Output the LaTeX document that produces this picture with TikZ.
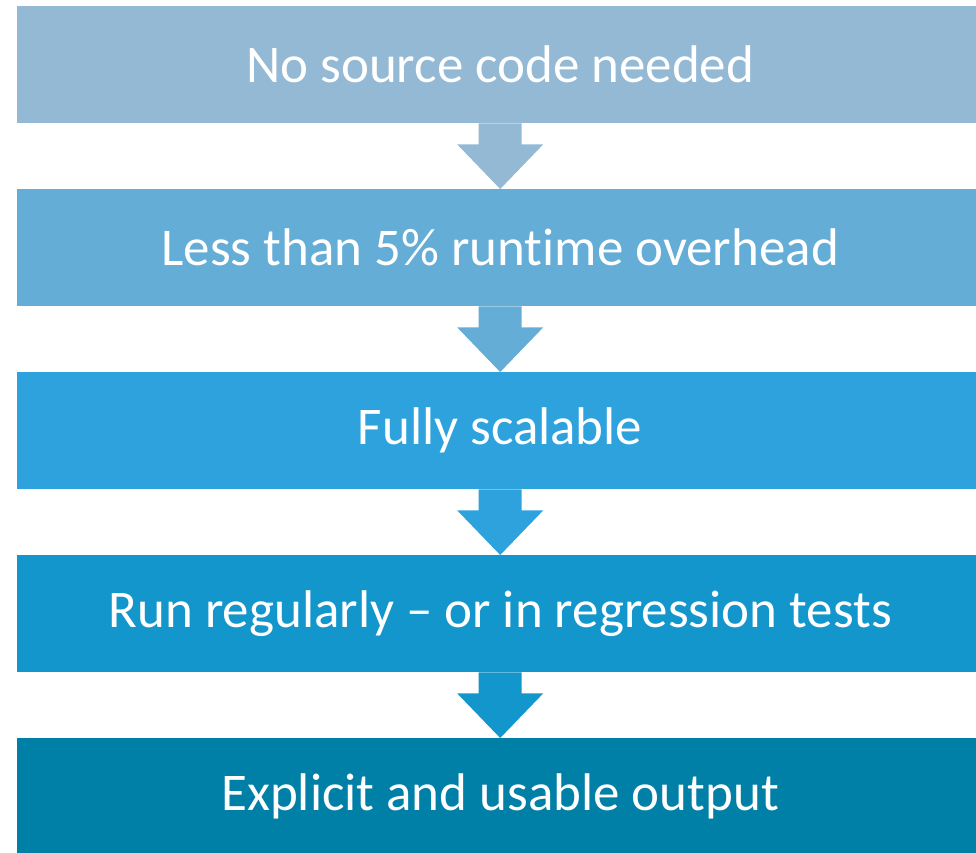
\documentclass[tikz,border=0pt]{standalone}
\usepackage{fontspec}
\setmainfont[Ligatures={NoCommon}]{Carlito}
\definecolor{cA}{HTML}{94B9D5}
\definecolor{cB}{HTML}{64ADD6}
\definecolor{cC}{HTML}{2EA2DC}
\definecolor{cD}{HTML}{1296CB}
\definecolor{cE}{HTML}{007FA7}
\begin{document}
\begin{tikzpicture}[x=1pt,y=-1pt,
  bar/.style={fill=#1,draw=none,minimum width=966pt,minimum height=117pt,anchor=north west,inner sep=0pt,
    text=white,font=\fontsize{53}{60}\selectfont},
  blockarrow/.style={fill=#1,draw=none}]
\useasboundingbox (0,0) rectangle (976,852);
\begin{scope}
\clip (0,0) rectangle (976,852);
\node[bar=cA] (b1) at (17,6) {No source code needed};
\node[bar=cB] (b2) at (17,189) {Less than 5\% runtime overhead};
\node[bar=cC] (b3) at (17,372) {Fully scalable};
\node[bar=cD] (b4) at (17,555) {Run regularly -- or in regression tests};
\node[bar=cE] (b5) at (17,738) {Explicit and usable output};
\foreach \u/\l/\c in {b1/b2/cA,b2/b3/cB,b3/b4/cC,b4/b5/cD}{
  \fill[\c] ([xshift=-21.5pt]\u.south) -- ([xshift=21.5pt]\u.south)
    -- ([xshift=21.5pt,yshift=-21pt]\u.south) -- ([xshift=43pt,yshift=-21pt]\u.south)
    -- (\l.north) -- ([xshift=-43pt,yshift=-21pt]\u.south)
    -- ([xshift=-21.5pt,yshift=-21pt]\u.south) -- cycle;
}
\end{scope}
\end{tikzpicture}
\end{document}
